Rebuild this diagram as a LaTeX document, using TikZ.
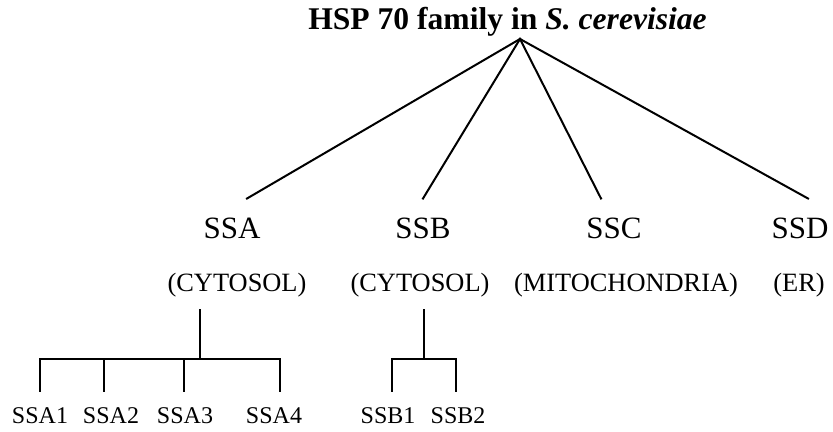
\documentclass[tikz,border=0pt]{standalone}
\usepackage{fontspec}
\setmainfont{Liberation Serif}
\usepackage{tikz}
\usetikzlibrary{
	positioning,
	calc
}
\tikzset{
  % line
	famline/.style     ={line width=1pt, line cap=rect}, % tree line
  % node
	famtitle/.style    ={font=\fontsize{15.8}{19}\selectfont\bfseries, inner sep=0pt, anchor=base},
	famnode/.style     ={font=\fontsize{15.5}{18}\selectfont, inner xsep=0pt, inner ysep=9.75pt, text height=10.3pt, text depth=0pt, anchor=base},
	famloc/.style      ={font=\fontsize{13.2}{16}\selectfont, inner xsep=0pt, inner ysep=9pt, text height=8.7pt, text depth=0pt, anchor=base},
	famleaf/.style     ={font=\fontsize{12}{14}\selectfont, inner xsep=0pt, inner ysep=8pt, text height=8pt, text depth=0pt, anchor=base}
}
\begin{document}
\begin{tikzpicture}[x=0.5pt,y=-0.5pt]
	\useasboundingbox (0,0) rectangle (833,432);
	\node[famtitle] (title) at (507.5,30) {HSP 70 family in \textit{S. cerevisiae}};
	\coordinate (apex) at (520,39);
	% family members
	\node[famnode] (ssa) at (232,239) {SSA};
	\node[famnode] (ssb) at (423,239) {SSB};
	\node[famnode] (ssc) at (614,239) {SSC};
	\node[famnode] (ssd) at (800,239) {SSD};
	\draw[famline] (apex) -- ([xshift=7.5pt]ssa.north);
	\draw[famline] (apex) -- (ssb.north);
	\draw[famline] (apex) -- ([xshift=-6.5pt]ssc.north);
	\draw[famline] (apex) -- ([xshift=4pt]ssd.north);
	% location
	\node[famloc] (locssa) at (237,292) {(CYTOSOL)};
	\node[famloc] (locssb) at (420,292) {(CYTOSOL)};
	\node[famloc] (locssc) at (626,292) {(MITOCHONDRIA)};
	\node[famloc] (locssd) at (799,292) {(ER)};
	% SSA genes
	\node[famleaf] (ssa1) at (40,423) {SSA1};
	\node[famleaf] (ssa2) at (111,423) {SSA2};
	\node[famleaf] (ssa3) at (185,423) {SSA3};
	\node[famleaf] (ssa4) at (274,423) {SSA4};
	\coordinate (ssajoin) at (200,359);
	\coordinate (ssadrop1) at (40,359);
	\coordinate (ssadrop2) at (104,359);
	\coordinate (ssadrop3) at (184,359);
	\coordinate (ssadrop4) at (280,359);
	\draw[famline] (ssajoin |- locssa.south) -- (ssajoin);
	\draw[famline] (ssadrop1) -- (ssadrop4);
	\draw[famline] (ssadrop1) -- (ssadrop1 |- ssa1.north);
	\draw[famline] (ssadrop2) -- (ssadrop2 |- ssa2.north);
	\draw[famline] (ssadrop3) -- (ssadrop3 |- ssa3.north);
	\draw[famline] (ssadrop4) -- (ssadrop4 |- ssa4.north);
	% SSB genes
	\node[famleaf] (ssb1) at (388,423) {SSB1};
	\node[famleaf] (ssb2) at (458,423) {SSB2};
	\coordinate (ssbjoin) at (424,359);
	\coordinate (ssbdrop1) at (392,359);
	\coordinate (ssbdrop2) at (456,359);
	\draw[famline] (ssbjoin |- locssb.south) -- (ssbjoin);
	\draw[famline] (ssbdrop1) -- (ssbdrop2);
	\draw[famline] (ssbdrop1) -- (ssbdrop1 |- ssb1.north);
	\draw[famline] (ssbdrop2) -- (ssbdrop2 |- ssb2.north);
\end{tikzpicture}
\end{document}
